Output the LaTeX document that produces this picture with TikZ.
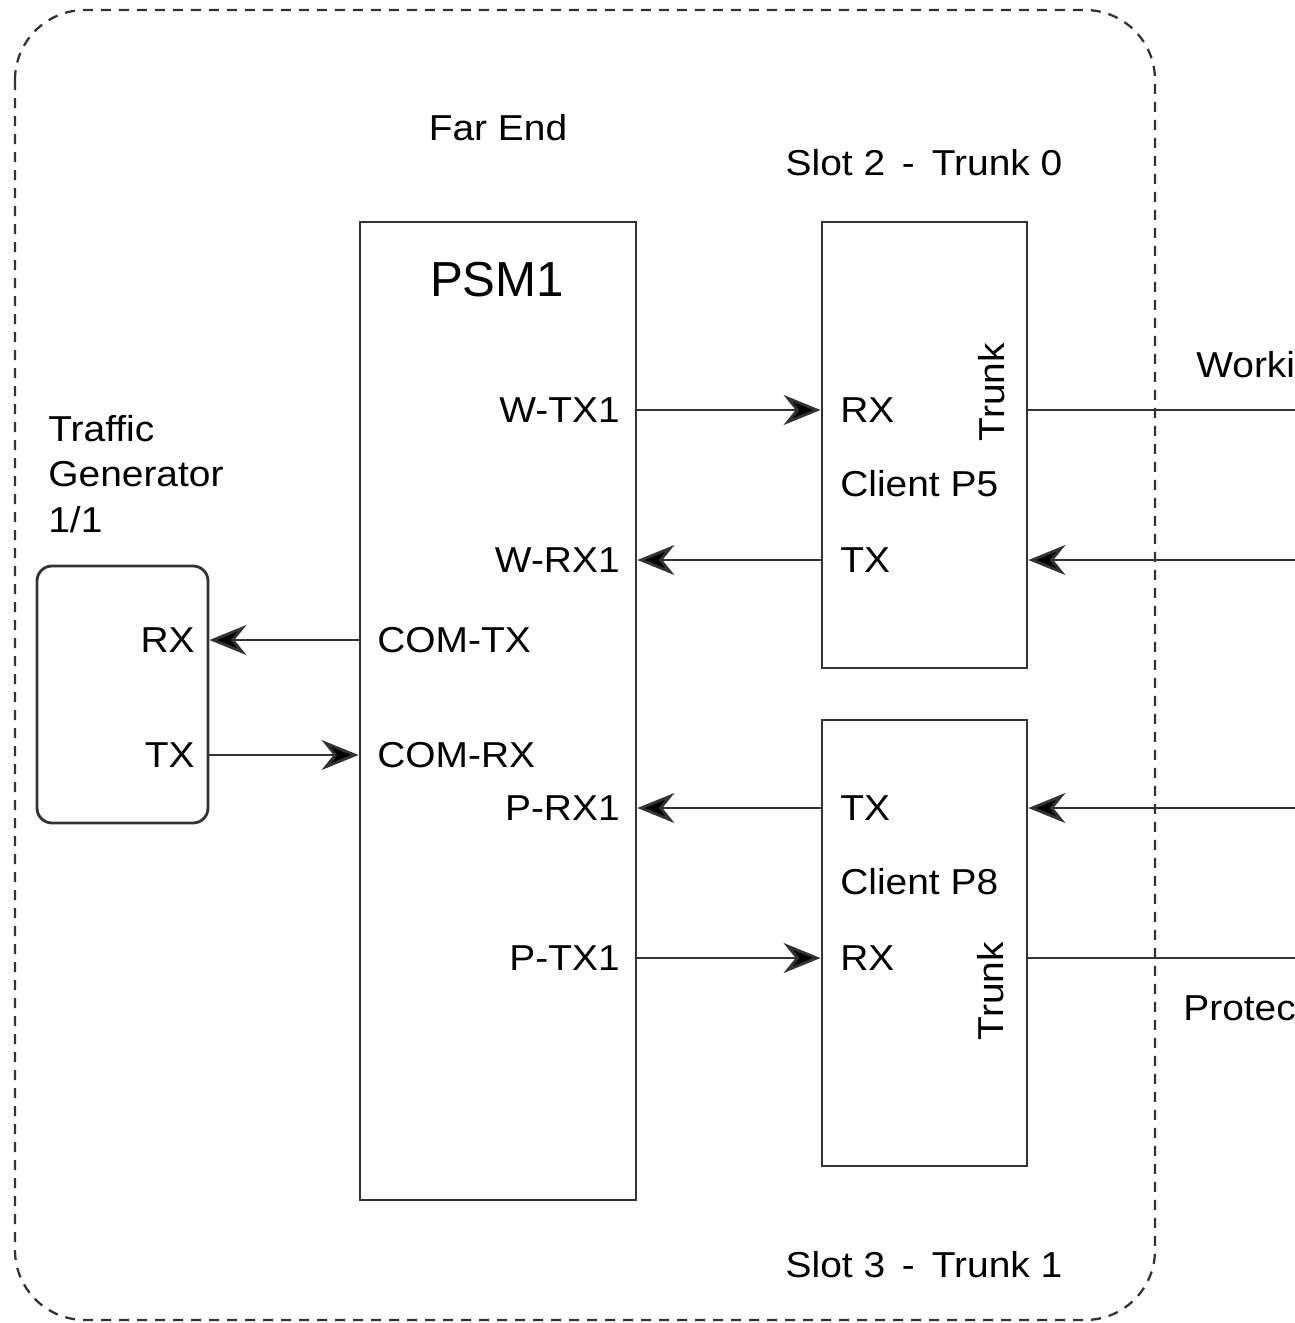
\documentclass[tikz,border=0pt]{standalone}
\usepackage{fontspec}
\setmainfont[FakeStretch=1.08]{Liberation Sans}
\newfontfamily\psmfont{Liberation Sans}
\usetikzlibrary{arrows.meta,positioning}

\begin{document}
\begin{tikzpicture}[
        x=0.2mm, y=-0.2mm,
        every node/.style={font=\fontsize{20.5}{26}\selectfont, inner sep=0pt},
        box/.style={rectangle, draw=black!80, line width=1.6pt},
        port/.style={anchor=west},
        arrow/.style={-{Stealth[length=7.4mm, width=6mm, inset=2.4mm, fill=black]}, line width=1.6pt, draw=black!80},
        line/.style={line width=1.6pt, draw=black!80}
    ]
        \clip (0,0) rectangle (1295,1323);

        % Far end boundary
        \draw[dashed, dash pattern=on 2mm off 1.6mm, line width=1.3pt, draw=black!80, rounded corners=14mm]
            (15,10) rectangle (1155,1320);
        \node (farend) at (498,128) {Far End};
        \node (slotAlbl) at (924,163) {Slot 2 \,-\, Trunk 0};
        \node (slotBlbl) at (924,1265) {Slot 3 \,-\, Trunk 1};

        % Boxes
        \node[box, minimum width=5.52cm, minimum height=19.56cm] (psm) at (498,711) {};
        \node[font=\psmfont\fontsize{28}{34}\selectfont] (psmlbl) at (497,280) {PSM1};
        \node[box, minimum width=4.1cm, minimum height=8.92cm] (slotA) at (924.5,445) {};
        \node[box, minimum width=4.1cm, minimum height=8.92cm] (slotB) at (924.5,943) {};
        \node[box, rounded corners=3mm, minimum width=3.42cm, minimum height=5.14cm] (gen) at (122.5,694.5) {};
        \node[align=left, anchor=west] (genlbl) at (48,474) {Traffic\\Generator\\1/1};

        % PSM ports
        \node[anchor=east] (wtx) at (620,410) {W-TX1};
        \node[anchor=east] (wrx) at (620,560) {W-RX1};
        \node[port] (comtx) at (377,640) {COM-TX};
        \node[port] (comrx) at (377,755) {COM-RX};
        \node[anchor=east] (prx) at (620,808) {P-RX1};
        \node[anchor=east] (ptx) at (620,958) {P-TX1};

        % Generator ports
        \node[anchor=east] (genrx) at (195,640) {RX};
        \node[anchor=east] (gentx) at (195,755) {TX};

        % Client ports
        \node[port] (arx) at (840,410) {RX};
        \node[port] (aclient) at (840,484) {Client P5};
        \node[port] (atx) at (840,560) {TX};
        \node[rotate=90] (atrunk) at (992,392) {Trunk};
        \node[port] (btx) at (840,808) {TX};
        \node[port] (bclient) at (840,882) {Client P8};
        \node[port] (brx) at (840,958) {RX};
        \node[rotate=90] (btrunk) at (991,991) {Trunk};

        % Line side
        \node[anchor=west] (work) at (1196,365) {Worki};
        \node[anchor=west] (prot) at (1183,1008) {Protec};
        \coordinate (workout) at (1300,410);
        \coordinate (workin) at (1300,560);
        \coordinate (protin) at (1300,808);
        \coordinate (protout) at (1300,958);

        % Arrows
        \draw[arrow] (psm.east |- wtx) -- (slotA.west |- wtx);
        \draw[arrow] (slotA.west |- wrx) -- (psm.east |- wrx);
        \draw[arrow] (psm.west |- comtx) -- (gen.east |- comtx);
        \draw[arrow] (gen.east |- comrx) -- (psm.west |- comrx);
        \draw[arrow] (slotB.west |- prx) -- (psm.east |- prx);
        \draw[arrow] (psm.east |- ptx) -- (slotB.west |- ptx);
        \draw[line] (slotA.east |- workout) -- (workout);
        \draw[arrow] (workin) -- (slotA.east |- workin);
        \draw[arrow] (protin) -- (slotB.east |- protin);
        \draw[line] (slotB.east |- protout) -- (protout);

    \end{tikzpicture}
\end{document}
